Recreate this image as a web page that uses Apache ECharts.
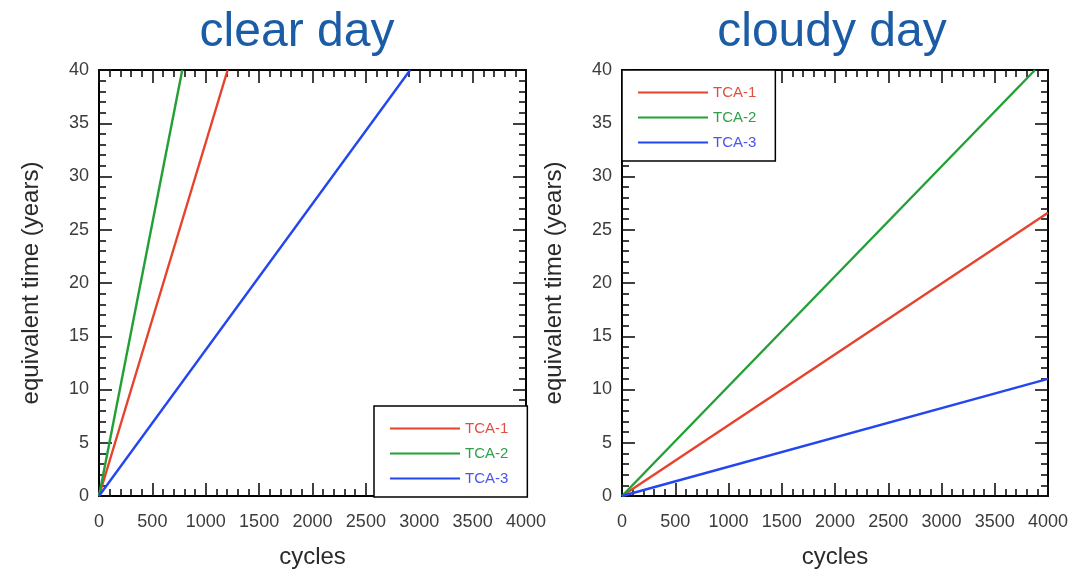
<!DOCTYPE html>
<html>
<head>
<meta charset="utf-8">
<script src="https://cdn.jsdelivr.net/npm/echarts@6/dist/echarts.min.js"></script>
<style>
html,body{margin:0;padding:0;background:#fff;}
#main{width:1080px;height:572px;}
</style>
</head>
<body>
<div id="main"></div>
<script>
// ---- data ----
const titles = ['clear day', 'cloudy day'];
const seriesNames = ['TCA-1', 'TCA-2', 'TCA-3'];
const xAxisName = 'cycles';
const yAxisName = 'equivalent time (years)';
// [cycles, years] endpoints
const clearTCA1 = [[0, 0], [1205, 40]];
const clearTCA2 = [[0, 0], [780, 40]];
const clearTCA3 = [[0, 0], [2915, 40]];
const cloudyTCA1 = [[0, 0], [4000, 26.6]];
const cloudyTCA2 = [[0, 0], [3878, 40]];
const cloudyTCA3 = [[0, 0], [4000, 11.0]];
const xMin = 0, xMax = 4000, xInterval = 500;
const yMin = 0, yMax = 40, yInterval = 5;

// ---- styles ----
const lineColors = ['#e5432c', '#22a035', '#2346ee'];
const legendTextColors = ['#e05040', '#2fa04a', '#4a55ee'];
const titleColor = '#1b5ca6';
const labelColor = '#3c3c3c';
const nameColor = '#2a2a2a';
const FONT = 'Liberation Sans, Arial, sans-serif';

const grids = [
  { left: 99, top: 70, width: 427, height: 426, containLabel: false, outerBoundsMode: 'none' },
  { left: 622, top: 70, width: 426, height: 426, containLabel: false, outerBoundsMode: 'none' }
];

function xAx(gi, pos) {
  const main = pos === 'bottom';
  return {
    type: 'value', gridIndex: gi, position: pos,
    min: xMin, max: xMax, interval: xInterval,
    axisLine: { show: true, onZero: false, lineStyle: { color: '#000', width: 2 } },
    axisTick: { show: true, inside: true, length: 13, lineStyle: { color: '#111', width: 1.6 } },
    minorTick: { show: true, splitNumber: 5, length: 7, lineStyle: { color: '#111', width: 1.6 } },
    splitLine: { show: false },
    axisLabel: { show: main, fontSize: 18, color: labelColor, margin: 17, fontFamily: FONT,
      formatter: v => String(v) },
    name: main ? xAxisName : '', nameLocation: 'middle', nameGap: 49,
    nameTextStyle: { fontSize: 24, color: nameColor, fontFamily: FONT }
  };
}
function yAx(gi, pos) {
  const main = pos === 'left';
  return {
    type: 'value', gridIndex: gi, position: pos,
    min: yMin, max: yMax, interval: yInterval,
    axisLine: { show: true, onZero: false, lineStyle: { color: '#000', width: 2 } },
    axisTick: { show: true, inside: true, length: 13, lineStyle: { color: '#111', width: 1.6 } },
    minorTick: { show: true, splitNumber: 5, length: 7, lineStyle: { color: '#111', width: 1.6 } },
    splitLine: { show: false },
    axisLabel: { show: main, fontSize: 18, color: labelColor, margin: 10, fontFamily: FONT,
      formatter: v => String(v) },
    name: main ? yAxisName : '', nameLocation: 'middle', nameGap: 56,
    nameTextStyle: { fontSize: 24, color: nameColor, fontFamily: FONT }
  };
}

const dataSets = [[clearTCA1, clearTCA2, clearTCA3], [cloudyTCA1, cloudyTCA2, cloudyTCA3]];
const series = [];
dataSets.forEach((set, gi) => {
  set.forEach((d, si) => {
    series.push({
      type: 'line', name: seriesNames[si], data: d,
      xAxisIndex: gi * 2, yAxisIndex: gi * 2,
      symbol: 'none', lineStyle: { color: lineColors[si], width: 2.4 },
      itemStyle: { color: lineColors[si] },
      animation: false, z: 3
    });
  });
});

function legend(left, top) {
  return {
    orient: 'vertical', left: left, top: top,
    backgroundColor: '#fff', borderColor: '#000', borderWidth: 1.5,
    padding: [15, 19, 11, 15], itemWidth: 70, itemHeight: 14, itemGap: 10,
    itemStyle: { opacity: 0 },
    textStyle: { fontSize: 15, fontFamily: FONT, lineHeight: 14 },
    data: seriesNames.map((n, i) => ({ name: n, textStyle: { color: legendTextColors[i] } })),
    z: 10
  };
}

const option = {
  backgroundColor: '#fff',
  animation: false,
  title: [
    { text: titles[0], left: 292, top: 4, textAlign: 'center',
      textStyle: { fontSize: 48, fontWeight: 'normal', color: titleColor, fontFamily: FONT } },
    { text: titles[1], left: 827, top: 4, textAlign: 'center',
      textStyle: { fontSize: 48, fontWeight: 'normal', color: titleColor, fontFamily: FONT } }
  ],
  grid: grids,
  xAxis: [xAx(0, 'bottom'), xAx(0, 'top'), xAx(1, 'bottom'), xAx(1, 'top')],
  yAxis: [yAx(0, 'left'), yAx(0, 'right'), yAx(1, 'left'), yAx(1, 'right')],
  legend: [legend(374, 406), legend(622, 70)],
  series: series
};

const chart = echarts.init(document.getElementById('main'), null, { renderer: 'canvas' });
chart.setOption(option);
</script>
</body>
</html>
